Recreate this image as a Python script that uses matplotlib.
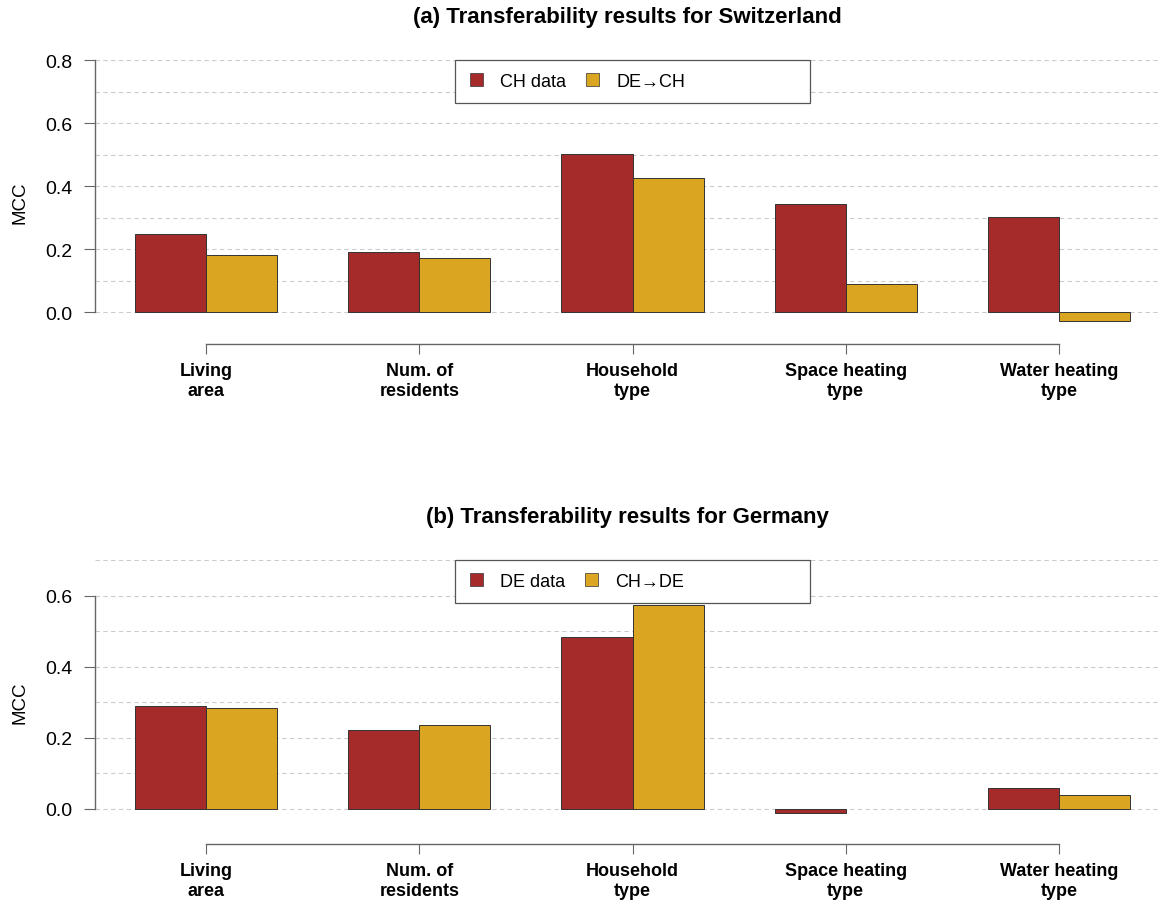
import matplotlib
matplotlib.use("Agg")
import matplotlib.pyplot as plt
from matplotlib.patches import Patch, Rectangle
import numpy as np

plt.rcParams['font.family'] = ['Liberation Sans', 'DejaVu Sans']

categories = ["Living\narea", "Num. of\nresidents", "Household\ntype", "Space heating\ntype", "Water heating\ntype"]

ch_data = [0.250, 0.193, 0.503, 0.345, 0.304]
de_to_ch = [0.183, 0.171, 0.427, 0.089, -0.028]

de_data = [0.290, 0.222, 0.484, -0.012, 0.059]
ch_to_de = [0.282, 0.234, 0.572, np.nan, 0.039]

panels = [
    ("(a) Transferability results for Switzerland", ch_data, de_to_ch, "CH data", "DE\u2192CH", 0.8, [0.0, 0.2, 0.4, 0.6, 0.8]),
    ("(b) Transferability results for Germany", de_data, ch_to_de, "DE data", "CH\u2192DE", 0.7, [0.0, 0.2, 0.4, 0.6]),
]

RED = "#A52A2A"
GOLD = "#DAA520"

W, H = 1160, 903
fig = plt.figure(figsize=(W / 100, H / 100), dpi=100)

ax_left, ax_right = 95, 1160
AW = ax_right - ax_left
plot_tops = [61, 561]
plot_h = 284
title_y = [18, 518]

x = np.arange(len(categories))
bw = 71 / 213

for i, (title, s1, s2, l1, l2, ymax, yt) in enumerate(panels):
    top = plot_tops[i]
    ax = fig.add_axes([ax_left / W, 1 - (top + plot_h) / H, AW / W, plot_h / H])
    ax.set_ylim(-0.1, ymax)
    ax.set_xlim(-111 / 213, 4 + 101 / 213)
    for g in np.arange(-0.1, ymax + 0.001, 0.1):
        ax.axhline(g, color="#cccccc", lw=0.8, ls=(0, (4, 3)), zorder=0)
    ax.bar(x - bw / 2, s1, width=bw, color=RED, edgecolor="#333333", linewidth=0.7, zorder=2)
    ax.bar(x + bw / 2, s2, width=bw, color=GOLD, edgecolor="#333333", linewidth=0.7, zorder=2)
    for sp in ["top", "right"]:
        ax.spines[sp].set_visible(False)
    ax.spines["left"].set_bounds(0, yt[-1])
    ax.spines["bottom"].set_bounds(0, len(categories) - 1)
    for sp in ["left", "bottom"]:
        ax.spines[sp].set_color("#666666")
        ax.spines[sp].set_linewidth(1.0)
    ax.set_yticks(yt)
    ax.set_yticklabels([f"{v:.1f}" for v in yt], fontsize=14)
    ax.set_xticks(x)
    ax.set_xticklabels(categories, fontsize=13, fontweight="bold", linespacing=1.25)
    ax.tick_params(axis="y", length=8, color="#666666", pad=8)
    ax.tick_params(axis="x", length=7, color="#666666", pad=6)
    ax.set_ylabel("MCC", fontsize=13.5, labelpad=12)
    fig.text(627 / W, 1 - title_y[i] / H, title, ha="center", va="center", fontsize=16, fontweight="bold")

    # legend frame
    fx0 = (455 - ax_left) / AW
    fw = (810 - 455) / AW
    fh = 43 / plot_h
    ax.add_patch(Rectangle((fx0, 1 - fh), fw, fh, transform=ax.transAxes, facecolor="white",
                           edgecolor="#555555", linewidth=0.9, zorder=4, clip_on=False))
    handles = [Patch(facecolor=RED, edgecolor="#333333", linewidth=0.5),
               Patch(facecolor=GOLD, edgecolor="#333333", linewidth=0.5)]
    leg = ax.legend(handles, [l1, l2], ncol=2, loc="center left",
                    bbox_to_anchor=((470 - ax_left) / AW, 1 - fh / 2),
                    borderaxespad=0, borderpad=0, fontsize=13, frameon=False,
                    handlelength=0.72, handleheight=0.72, handletextpad=0.95,
                    columnspacing=1.1)
    leg.set_zorder(5)

fig.savefig("out.png", dpi=100)
